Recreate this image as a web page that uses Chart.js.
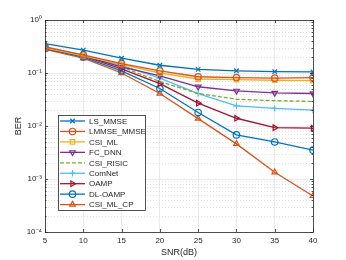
<!DOCTYPE html>
<html>
<head>
<meta charset="utf-8">
<script src="https://cdn.jsdelivr.net/npm/chart.js@4/dist/chart.umd.min.js"></script>
<style>
html, body { margin: 0; padding: 0; background: #fff; }
#wrap { width: 346px; height: 260px; }
</style>
</head>
<body>
<div id="wrap"><canvas id="berChart" width="346" height="260"></canvas></div>
<script>
// SNR in dB on the x axis, BER values
const snr = [5, 10, 15, 20, 25, 30, 35, 40];
const lsMmse    = [0.36, 0.27, 0.19, 0.14, 0.117, 0.11, 0.106, 0.105];
const lmmseMmse = [0.31, 0.22, 0.15, 0.11, 0.085, 0.082, 0.08, 0.082];
const csiMl     = [0.30, 0.21, 0.145, 0.10, 0.077, 0.075, 0.073, 0.072];
const fcDnn     = [0.30, 0.21, 0.13, 0.088, 0.055, 0.046, 0.042, 0.041];
const csiRisic  = [0.30, 0.21, 0.13, 0.069, 0.041, 0.032, 0.030, 0.029];
const comNet    = [0.31, 0.21, 0.14, 0.08, 0.041, 0.024, 0.0215, 0.020];
const oamp      = [0.30, 0.21, 0.12, 0.063, 0.027, 0.014, 0.0093, 0.0091];
const dlOamp    = [0.29, 0.20, 0.11, 0.051, 0.018, 0.0068, 0.005, 0.0035];
const csiMlCp   = [0.28, 0.19, 0.10, 0.041, 0.0138, 0.0046, 0.00134, 0.00048];
const yTickLabels = ['10\u207B\u2074', '10\u207B\u00B3', '10\u207B\u00B2', '10\u207B\u00B9', '10\u2070'];

const FONT = "'Liberation Sans', Arial, sans-serif";
const AXIS_COLOR = '#262626';

function series(label, values, color, pointStyle, rotation, dash) {
    return {
        label: label,
        data: snr.map((s, i) => ({ x: s, y: values[i] })),
        borderColor: color,
        borderWidth: 1.3,
        borderDash: dash || [],
        pointStyle: pointStyle,
        rotation: rotation || 0,
        pointRadius: pointStyle ? 3.2 : 0,
        pointBorderWidth: 1.2,
        pointBorderColor: color,
        pointBackgroundColor: 'rgba(0,0,0,0)',
        tension: 0
    };
}

function isDecade(v) {
    const l = Math.log10(v);
    return Math.abs(l - Math.round(l)) < 1e-6;
}

// MATLAB-ish frame: dotted minor grid, box, inward ticks and the legend inside the axes
const matlabFrame = {
    id: 'matlabFrame',
    beforeDatasetsDraw(chart) {
        const { ctx, chartArea: a, scales: { y } } = chart;
        ctx.save();
        ctx.strokeStyle = '#d9d9d9';
        ctx.lineWidth = 0.8;
        ctx.setLineDash([1, 2]);
        for (let e = -4; e < 0; e++) {
            for (let m = 2; m <= 9; m++) {
                const py = Math.round(y.getPixelForValue(m * Math.pow(10, e))) + 0.5;
                ctx.beginPath();
                ctx.moveTo(a.left, py);
                ctx.lineTo(a.right, py);
                ctx.stroke();
            }
        }
        ctx.restore();
    },
    afterDraw(chart) {
        const { ctx, chartArea: a, scales: { x, y } } = chart;
        ctx.save();
        ctx.strokeStyle = AXIS_COLOR;
        ctx.lineWidth = 0.8;
        ctx.strokeRect(a.left + 0.5, a.top + 0.5, a.right - a.left, a.bottom - a.top);

        // inward tick marks
        ctx.beginPath();
        snr.forEach(s => {
            const px = Math.round(x.getPixelForValue(s)) + 0.5;
            ctx.moveTo(px, a.bottom); ctx.lineTo(px, a.bottom - 3);
            ctx.moveTo(px, a.top); ctx.lineTo(px, a.top + 3);
        });
        for (let e = -4; e <= 0; e++) {
            for (let m = 1; m <= 9; m++) {
                const v = m * Math.pow(10, e);
                if (v > 1) break;
                const len = m === 1 ? 3 : 1.5;
                const py = Math.round(y.getPixelForValue(v)) + 0.5;
                ctx.moveTo(a.left, py); ctx.lineTo(a.left + len, py);
                ctx.moveTo(a.right, py); ctx.lineTo(a.right - len, py);
            }
        }
        ctx.stroke();

        // legend box
        const lx = 58, ly = 115, lw = 87, lh = 95, row = 10.45;
        ctx.fillStyle = '#fff';
        ctx.fillRect(lx, ly, lw, lh);
        ctx.strokeRect(lx + 0.5, ly + 0.5, lw, lh);
        ctx.font = '8px ' + FONT;
        ctx.textBaseline = 'middle';
        chart.data.datasets.forEach((ds, i) => {
            const ry = ly + 6 + i * row;
            ctx.strokeStyle = ds.borderColor;
            ctx.lineWidth = ds.borderWidth;
            ctx.setLineDash(ds.borderDash);
            ctx.beginPath();
            ctx.moveTo(lx + 2, ry);
            ctx.lineTo(lx + 27, ry);
            ctx.stroke();
            ctx.setLineDash([]);
            if (ds.pointStyle) {
                ctx.fillStyle = 'rgba(0,0,0,0)';
                ctx.lineWidth = ds.pointBorderWidth;
                Chart.helpers.drawPoint(ctx, {
                    pointStyle: ds.pointStyle,
                    rotation: ds.rotation,
                    radius: ds.pointRadius,
                    borderWidth: ds.pointBorderWidth
                }, lx + 14.5, ry);
            }
            ctx.fillStyle = AXIS_COLOR;
            ctx.fillText(ds.label, lx + 31, ry + 0.5);
        });
        ctx.restore();
    }
};

new Chart(document.getElementById('berChart'), {
    type: 'line',
    data: {
        datasets: [
            series('LS_MMSE', lsMmse, '#0072BD', 'crossRot'),
            series('LMMSE_MMSE', lmmseMmse, '#D95319', 'circle'),
            series('CSI_ML', csiMl, '#EDB120', 'rect'),
            series('FC_DNN', fcDnn, '#7E2F8E', 'triangle', 180),
            series('CSI_RISIC', csiRisic, '#77AC30', false, 0, [4, 2]),
            series('ComNet', comNet, '#4DBEEE', 'cross'),
            series('OAMP', oamp, '#A2142F', 'triangle', 90),
            series('DL-OAMP', dlOamp, '#0072BD', 'circle'),
            series('CSI_ML_CP', csiMlCp, '#D95319', 'triangle')
        ]
    },
    options: {
        responsive: false,
        devicePixelRatio: 1,
        animation: false,
        layout: { padding: { top: 20, right: 33, left: 0, bottom: 0 } },
        plugins: { legend: { display: false }, tooltip: { enabled: false } },
        scales: {
            x: {
                type: 'linear',
                min: 5,
                max: 40,
                afterFit: function (scale) { scale.height = 28; },
                ticks: { stepSize: 5, padding: 4, color: AXIS_COLOR, font: { family: FONT, size: 8 } },
                grid: { color: '#e6e6e6', lineWidth: 0.8, drawTicks: false },
                border: { display: false },
                title: { display: true, text: 'SNR(dB)', color: AXIS_COLOR, font: { family: FONT, size: 9 }, padding: { top: 0, bottom: 2 } }
            },
            y: {
                type: 'logarithmic',
                min: 1e-4,
                max: 1,
                afterFit: function (scale) { scale.width = 45; },
                ticks: {
                    autoSkip: false,
                    padding: 3,
                    color: AXIS_COLOR,
                    font: { family: FONT, size: 8 },
                    callback: function (value) {
                        if (!isDecade(value)) return '';
                        return yTickLabels[Math.round(Math.log10(value)) + 4];
                    }
                },
                grid: {
                    color: c => (c.tick && isDecade(c.tick.value)) ? '#e6e6e6' : 'rgba(0,0,0,0)',
                    lineWidth: 0.8,
                    drawTicks: false
                },
                border: { display: false },
                title: { display: true, text: 'BER', color: AXIS_COLOR, font: { family: FONT, size: 9 }, padding: { top: 13, bottom: 0 } }
            }
        }
    },
    plugins: [matlabFrame]
});
</script>
</body>
</html>
